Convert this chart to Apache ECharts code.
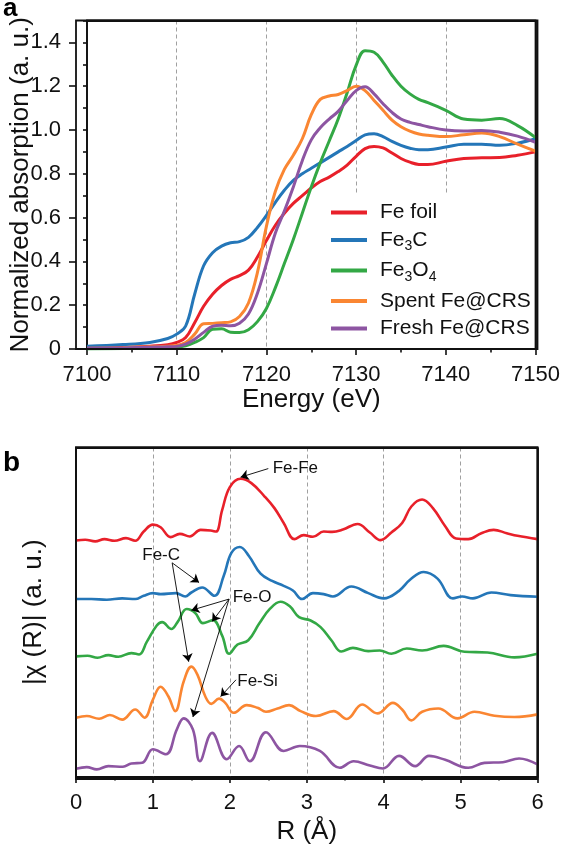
<!DOCTYPE html>
<html>
<head>
<meta charset="utf-8">
<script src="https://cdn.jsdelivr.net/npm/echarts@6/dist/echarts.min.js"></script>
<style>html,body{margin:0;padding:0;background:#fff}#c{width:563px;height:846px}</style>
</head>
<body>
<div id="c"></div>
<script>
// ---------- Panel a: XANES (normalized absorption vs energy) ----------
const energy = [7100, 7104, 7107, 7109, 7110, 7111, 7112, 7113, 7114, 7115, 7116, 7117, 7118, 7119, 7120, 7121, 7122, 7123, 7124, 7125, 7126, 7127, 7128, 7129, 7130, 7131, 7132, 7133, 7134, 7135, 7136, 7137, 7138, 7140, 7142, 7144, 7146, 7148, 7150];
const xanesFeFoil = [0.004, 0.008, 0.013, 0.020, 0.030, 0.052, 0.120, 0.195, 0.250, 0.290, 0.318, 0.335, 0.360, 0.420, 0.495, 0.565, 0.620, 0.665, 0.700, 0.735, 0.765, 0.785, 0.810, 0.840, 0.880, 0.915, 0.925, 0.918, 0.895, 0.870, 0.853, 0.843, 0.842, 0.857, 0.870, 0.873, 0.874, 0.885, 0.900];
const xanesFe3C = [0.012, 0.020, 0.030, 0.048, 0.068, 0.105, 0.250, 0.380, 0.440, 0.470, 0.485, 0.490, 0.510, 0.555, 0.610, 0.670, 0.725, 0.770, 0.800, 0.825, 0.850, 0.875, 0.900, 0.925, 0.952, 0.978, 0.983, 0.970, 0.948, 0.930, 0.917, 0.910, 0.910, 0.922, 0.935, 0.935, 0.930, 0.940, 0.960];
const xanesFe3O4 = [0.000, 0.002, 0.004, 0.006, 0.008, 0.015, 0.030, 0.052, 0.090, 0.092, 0.077, 0.075, 0.088, 0.125, 0.185, 0.280, 0.390, 0.500, 0.620, 0.740, 0.850, 0.950, 1.050, 1.170, 1.295, 1.362, 1.355, 1.310, 1.250, 1.200, 1.165, 1.140, 1.125, 1.090, 1.050, 1.045, 1.052, 1.020, 0.965];
const xanesSpent = [0.003, 0.006, 0.010, 0.013, 0.016, 0.030, 0.068, 0.115, 0.117, 0.120, 0.124, 0.148, 0.210, 0.350, 0.560, 0.720, 0.820, 0.885, 0.960, 1.070, 1.140, 1.155, 1.162, 1.180, 1.200, 1.180, 1.135, 1.090, 1.045, 1.015, 0.995, 0.982, 0.976, 0.970, 0.978, 0.986, 0.970, 0.935, 0.903];
const xanesFresh = [0.003, 0.005, 0.008, 0.010, 0.012, 0.022, 0.045, 0.076, 0.104, 0.108, 0.106, 0.118, 0.160, 0.255, 0.390, 0.530, 0.630, 0.740, 0.860, 0.955, 1.010, 1.050, 1.085, 1.135, 1.180, 1.197, 1.165, 1.120, 1.080, 1.050, 1.035, 1.025, 1.015, 1.000, 0.995, 0.998, 0.990, 0.972, 0.944];

// ---------- Panel b: Fourier-transformed EXAFS, |chi(R)| (stacked, a.u.) ----------
const rFeFoil = [0, 0.12, 0.25, 0.37, 0.5, 0.65, 0.77, 0.88, 1.0, 1.1, 1.23, 1.35, 1.48, 1.62, 1.75, 1.82, 1.9, 2.0, 2.14, 2.28, 2.45, 2.58, 2.7, 2.84, 2.96, 3.08, 3.22, 3.33, 3.47, 3.66, 3.82, 3.96, 4.1, 4.24, 4.36, 4.5, 4.64, 4.8, 4.94, 5.1, 5.27, 5.43, 5.6, 5.74, 6.0];
const ftFeFoil = [7.18, 7.2, 7.15, 7.22, 7.17, 7.25, 7.17, 7.45, 7.66, 7.58, 7.28, 7.38, 7.3, 7.5, 7.48, 7.45, 8.1, 8.8, 9.05, 8.92, 8.52, 8.16, 7.71, 7.22, 7.34, 7.29, 7.45, 7.44, 7.51, 7.68, 7.42, 7.19, 7.42, 7.71, 8.21, 8.42, 8.16, 7.61, 7.24, 7.22, 7.4, 7.5, 7.4, 7.32, 7.22];
const rFe3C = [0, 0.2, 0.4, 0.6, 0.77, 0.88, 1.0, 1.1, 1.3, 1.42, 1.5, 1.64, 1.8, 1.92, 2.02, 2.13, 2.25, 2.4, 2.55, 2.7, 2.82, 2.94, 3.08, 3.22, 3.34, 3.58, 3.8, 4.0, 4.2, 4.35, 4.52, 4.7, 4.9, 5.02, 5.16, 5.4, 5.65, 6.0];
const ftFe3C = [5.4, 5.4, 5.38, 5.42, 5.4, 5.5, 5.58, 5.55, 5.58, 5.48, 5.6, 5.75, 5.5, 6.1, 6.8, 6.98, 6.7, 6.17, 5.95, 5.8, 5.66, 5.4, 5.58, 5.55, 5.48, 5.78, 5.58, 5.42, 5.65, 6.0, 6.22, 6.02, 5.42, 5.48, 5.42, 5.6, 5.52, 5.47];
const rFe3O4 = [0, 0.15, 0.28, 0.42, 0.55, 0.72, 0.82, 0.92, 1.05, 1.12, 1.24, 1.32, 1.44, 1.55, 1.65, 1.78, 1.9, 1.99, 2.1, 2.24, 2.38, 2.52, 2.66, 2.78, 2.9, 3.05, 3.18, 3.32, 3.45, 3.6, 3.8, 3.95, 4.1, 4.3, 4.5, 4.78, 5.05, 5.35, 5.7, 6.0];
const ftFe3O4 = [3.66, 3.68, 3.62, 3.7, 3.65, 3.76, 3.72, 4.1, 4.6, 4.7, 4.49, 4.7, 5.1, 4.98, 4.67, 4.76, 4.29, 3.74, 4.02, 4.15, 4.65, 5.1, 5.32, 5.18, 4.85, 4.75, 4.55, 4.15, 3.81, 3.92, 3.82, 3.84, 3.74, 3.9, 3.84, 3.98, 3.8, 3.78, 3.63, 3.74];
const rSpent = [0, 0.14, 0.3, 0.44, 0.6, 0.77, 0.89, 1.0, 1.1, 1.2, 1.29, 1.4, 1.5, 1.58, 1.68, 1.76, 1.86, 1.94, 2.05, 2.22, 2.36, 2.47, 2.62, 2.77, 2.92, 3.12, 3.35, 3.52, 3.72, 3.92, 4.12, 4.24, 4.36, 4.5, 4.71, 4.96, 5.18, 5.44, 5.7, 6.0];
const ftSpent = [1.8, 1.85, 1.77, 1.88, 1.74, 2.05, 1.8, 2.35, 2.74, 2.45, 2.0, 2.9, 3.35, 3.1, 2.45, 2.22, 2.38, 2.25, 1.95, 2.18, 2.1, 1.98, 2.08, 2.18, 2.0, 1.85, 2.0, 1.76, 2.2, 1.93, 2.25, 2.05, 1.72, 1.98, 2.08, 1.78, 1.98, 1.86, 1.82, 1.9];
const rFresh = [0, 0.14, 0.27, 0.42, 0.61, 0.72, 0.86, 1.0, 1.17, 1.31, 1.4, 1.52, 1.61, 1.77, 1.96, 2.12, 2.26, 2.47, 2.7, 2.91, 3.17, 3.43, 3.61, 3.82, 3.99, 4.2, 4.41, 4.59, 4.8, 5.1, 5.31, 5.55, 5.76, 6.0];
const ftFresh = [0.25, 0.3, 0.23, 0.33, 0.31, 0.41, 0.43, 0.84, 0.69, 1.44, 1.78, 1.44, 0.48, 1.34, 0.54, 0.94, 0.48, 1.36, 0.79, 0.94, 0.79, 0.28, 0.48, 0.35, 0.26, 0.64, 0.33, 0.64, 0.52, 0.28, 0.43, 0.45, 0.56, 0.38];

// ---------- Annotations (data coordinates of panel b) ----------
const annoText = ['Fe-Fe', 'Fe-C', 'Fe-O', 'Fe-Si'];
const annoTextAt = [[2.55, 9.36], [0.855, 6.72], [2.03, 5.45], [2.09, 2.89]];
const arrowFrom = [[2.50, 9.36], [1.25, 6.50], [1.25, 6.50], [1.99, 5.40], [1.99, 5.40], [1.99, 5.40], [2.08, 2.95]];
const arrowTo = [[2.14, 9.10], [1.60, 5.90], [1.465, 3.50], [1.50, 5.06], [1.77, 4.72], [1.52, 1.82], [1.88, 2.44]];

// axis ranges
const rangeE = [7100, 7150], rangeAbs = [0, 1.5];
const rangeR = [0, 6], rangeChi = [0, 10];

const seriesNames = ['Fe foil', 'Fe3C', 'Fe3O4', 'Spent Fe@CRS', 'Fresh Fe@CRS'];
const colors = ['#E8202A', '#2476B8', '#33A845', '#FA8632', '#8D55A2'];

const FONT = '"Liberation Sans", Arial, Helvetica, sans-serif';
const INK = '#111';
const zip = (xs, ys) => xs.map((x, i) => [x, ys[i]]);

const xanesSets = [xanesFeFoil, xanesFe3C, xanesFe3O4, xanesSpent, xanesFresh];
const ftSets = [[rFeFoil, ftFeFoil], [rFe3C, ftFe3C], [rFe3O4, ftFe3O4], [rSpent, ftSpent], [rFresh, ftFresh]];

// plot boxes (pixels)
const boxA = { left: 76, top: 20.5, width: 461.5, height: 328.5 };
const boxB = { left: 76, top: 447.5, width: 461.5, height: 331.5 };

const dashed = { show: true, showMinLine: false, showMaxLine: false, lineStyle: { color: '#a0a0a0', width: 1, type: [4, 3] } };
const axisLine = { show: true, onZero: false, lineStyle: { color: INK, width: 1.6 } };
const labelStyle = { fontSize: 22, color: INK, fontFamily: FONT, margin: 15, formatter: v => String(v) };
const nameStyle = { fontSize: 26, color: INK, fontFamily: FONT };
const frameStyle = { color: INK, width: 1.8, type: 'solid' };

// top and right frame lines of a plot box, in data coordinates
const frameData = (xr, yr) => [
  [{ coord: [xr[0], yr[1]], symbol: 'none', lineStyle: frameStyle }, { coord: [xr[1], yr[1]], symbol: 'none' }],
  [{ coord: [xr[1], yr[0]], symbol: 'none', lineStyle: frameStyle }, { coord: [xr[1], yr[1]], symbol: 'none' }]
];

const series = [];
xanesSets.forEach((vals, i) => {
  const s = {
    name: seriesNames[i], type: 'line', xAxisIndex: 0, yAxisIndex: 0,
    data: zip(energy, vals), smooth: 0.4, symbol: 'none', showSymbol: false,
    color: colors[i], lineStyle: { color: colors[i], width: 3 }, z: 2
  };
  if (i === 0) {
    s.markLine = {
      silent: true, animation: false, symbol: ['none', 'none'], precision: 4,
      lineStyle: frameStyle, label: { show: false }, emphasis: { disabled: true },
      data: frameData(rangeE, rangeAbs)
    };
  }
  series.push(s);
});
ftSets.forEach((pair, i) => {
  const s = {
    name: seriesNames[i], type: 'line', xAxisIndex: 2, yAxisIndex: 2,
    data: zip(pair[0], pair[1]), smooth: 0.4, symbol: 'none', showSymbol: false,
    color: colors[i], lineStyle: { color: colors[i], width: 2.6 }, z: 2
  };
  if (i === 0) {
    s.markLine = {
      silent: true, animation: false, symbol: ['none', 'arrow'], symbolSize: 8,
      lineStyle: { color: '#000', width: 0.9, type: 'solid' },
      label: { show: false }, emphasis: { disabled: true },
      data: arrowFrom.map((f, k) => [{ coord: f }, { coord: arrowTo[k] }]).concat(frameData(rangeR, rangeChi))
    };
    s.markPoint = {
      silent: true, animation: false, symbol: 'circle', symbolSize: 1,
      itemStyle: { color: 'rgba(0,0,0,0)' },
      label: { show: true, position: 'right', distance: 0, formatter: '{b}', fontSize: 17, color: INK, fontFamily: FONT },
      data: annoText.map((t, k) => ({ name: t, coord: annoTextAt[k] }))
    };
  }
  series.push(s);
});

const frameRect = (b) => ({
  type: 'rect', z: 50, silent: true,
  shape: { x: b.left, y: b.top, width: b.width, height: b.height },
  style: { fill: 'rgba(0,0,0,0)', stroke: INK, lineWidth: 1.8 }
});

const option = {
  animation: false,
  backgroundColor: '#fff',
  textStyle: { fontFamily: FONT },
  grid: [
    Object.assign({ show: true, borderColor: INK, borderWidth: 1.8, backgroundColor: 'rgba(0,0,0,0)' }, boxA),
    { left: 76, width: 461.5, top: 42.4, height: 306.6, show: false },
    Object.assign({ show: true, borderColor: INK, borderWidth: 1.8, backgroundColor: 'rgba(0,0,0,0)' }, boxB)
  ],
  xAxis: [
    { type: 'value', gridIndex: 0, min: rangeE[0], max: rangeE[1], interval: 10,
      axisLine, axisTick: { show: true, length: 6, lineStyle: { color: INK, width: 1.6 } },
      minorTick: { show: true, splitNumber: 2, length: 3.5, lineStyle: { color: INK, width: 1.6 } },
      axisLabel: labelStyle, splitLine: dashed,
      name: 'Energy (eV)', nameLocation: 'middle', nameGap: 37, nameTextStyle: nameStyle },
    { type: 'value', gridIndex: 1, min: rangeE[0], max: rangeE[1], show: false },
    { type: 'value', gridIndex: 2, min: rangeR[0], max: rangeR[1], interval: 1,
      axisLine, axisTick: { show: true, length: 6, lineStyle: { color: INK, width: 1.6 } },
      minorTick: { show: true, splitNumber: 2, length: 3.5, lineStyle: { color: INK, width: 1.6 } },
      axisLabel: labelStyle, splitLine: dashed,
      name: 'R (Å)', nameLocation: 'middle', nameGap: 42, nameTextStyle: nameStyle }
  ],
  yAxis: [
    { type: 'value', gridIndex: 0, min: rangeAbs[0], max: rangeAbs[1], interval: 0.1,
      axisLine, axisTick: { show: true, length: 4, lineStyle: { color: INK, width: 1.6 } },
      axisLabel: { show: false }, splitLine: { show: false },
      name: 'Normalized absorption (a. u.)', nameLocation: 'middle', nameGap: 53, nameTextStyle: nameStyle },
    { type: 'value', gridIndex: 1, min: 0, max: 1.4, interval: 0.2,
      axisLine: { show: false }, axisTick: { show: true, length: 7, lineStyle: { color: INK, width: 1.6 } },
      axisLabel: Object.assign({}, labelStyle, { formatter: v => (v === 0 ? '0' : v.toFixed(1)) }),
      splitLine: { show: false } },
    { type: 'value', gridIndex: 2, min: rangeChi[0], max: rangeChi[1],
      axisLine, axisTick: { show: false }, axisLabel: { show: false }, splitLine: { show: false },
      name: '|χ (R)| (a. u.)', nameLocation: 'middle', nameGap: 29, nameTextStyle: nameStyle }
  ],
  legend: {
    data: seriesNames, orient: 'vertical', left: 325, top: 195, z: 1,
    padding: [7, 0, 8, 6], backgroundColor: '#fff',
    itemGap: 6.5, itemWidth: 36, itemHeight: 4, icon: 'rect',
    selectedMode: false,
    textStyle: { fontSize: 21, color: INK, fontFamily: FONT, lineHeight: 20, padding: [0, 0, 0, 8],
      rich: { s: { fontSize: 14, fontFamily: FONT, color: INK, height: 7, verticalAlign: 'bottom' } } },
    formatter: name => name.replace(/(\d)/g, '{s|$1}')
  },
  graphic: [
    { type: 'text', left: 3, top: -4, style: { text: 'a', font: 'bold 26px ' + FONT, fill: '#000' } },
    { type: 'text', left: 3, top: 449, style: { text: 'b', font: 'bold 28px ' + FONT, fill: '#000' } },
    frameRect(boxA),
    frameRect(boxB)
  ],
  series
};

const chart = echarts.init(document.getElementById('c'), null, { renderer: 'canvas' });
chart.setOption(option);
</script>
</body>
</html>
